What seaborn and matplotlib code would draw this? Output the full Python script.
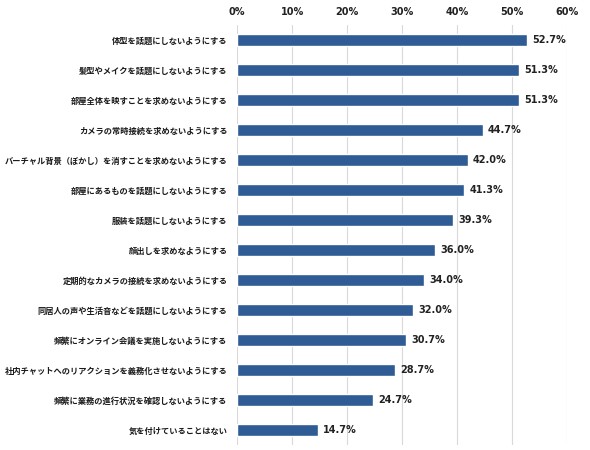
import matplotlib
matplotlib.use("Agg")
import matplotlib.pyplot as plt
import seaborn as sns
import pandas as pd

categories = [
    "体型を話題にしないようにする",
    "髪型やメイクを話題にしないようにする",
    "部屋全体を映すことを求めないようにする",
    "カメラの常時接続を求めないようにする",
    "バーチャル背景（ぼかし）を消すことを求めないようにする",
    "部屋にあるものを話題にしないようにする",
    "服装を話題にしないようにする",
    "顔出しを求めなようにする",
    "定期的なカメラの接続を求めないようにする",
    "同居人の声や生活音などを話題にしないようにする",
    "頻繁にオンライン会議を実施しないようにする",
    "社内チャットへのリアクションを義務化させないようにする",
    "頻繁に業務の進行状況を確認しないようにする",
    "気を付けていることはない",
]
values = [52.7, 51.3, 51.3, 44.7, 42.0, 41.3, 39.3, 36.0, 34.0, 32.0, 30.7, 28.7, 24.7, 14.7]
tick_values = [0, 10, 20, 30, 40, 50, 60]
tick_labels = ["0%", "10%", "20%", "30%", "40%", "50%", "60%"]

df = pd.DataFrame({"item": categories, "value": values})

sns.set_theme(style="white")
plt.rcParams["font.family"] = ["Noto Sans CJK JP", "DejaVu Sans"]

fig = plt.figure(figsize=(5.9, 4.5), dpi=100)
ax = fig.add_axes([0.402, 0.011, 0.559, 0.933])

sns.barplot(data=df, x="value", y="item", color="#2F5C95", width=0.4,
            saturation=1, ax=ax, orient="h")

ax.set_xlim(0, 60)
ax.set_ylim(len(categories) - 0.5, -0.5)
ax.set_xticks(tick_values)
ax.set_xticklabels(tick_labels, fontsize=7, fontweight="bold",
                   family=["DejaVu Sans"], color="#222222")
ax.xaxis.tick_top()
ax.tick_params(axis="x", length=0, pad=6)
ax.tick_params(axis="y", length=0, pad=7)
for lab in ax.get_yticklabels():
    lab.set_fontsize(5.95)
    lab.set_fontweight("bold")
    lab.set_color("#1A1A1A")
ax.set_xlabel("")
ax.set_ylabel("")
ax.grid(axis="x", color="#D9D9D9", linewidth=0.8)
ax.set_axisbelow(True)
for s in ax.spines.values():
    s.set_visible(False)

for i, v in enumerate(values):
    ax.text(v + 0.9, i, f"{v:.1f}%", va="center", ha="left", fontsize=7,
            fontweight="bold", family=["DejaVu Sans"], color="#222222")

fig.savefig("out.png", dpi=100)
